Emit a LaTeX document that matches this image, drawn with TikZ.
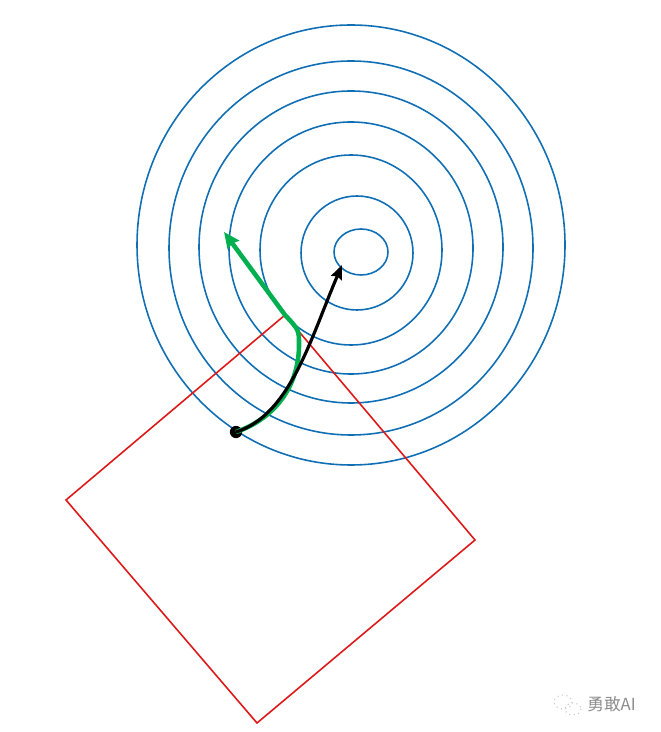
\documentclass[tikz,border=0pt]{standalone}
\usepackage{fontspec}
\newfontfamily\cjkfont{Noto Sans CJK SC}
\usetikzlibrary{arrows.meta}
\definecolor{contourblue}{RGB}{16,110,180}
\definecolor{boxred}{RGB}{222,24,24}
\definecolor{stepgreen}{RGB}{0,176,80}
\tikzset{
    contour line/.style = {draw=contourblue, line width=0.9pt},
    box edge/.style = {draw=boxred, line width=0.9pt},
}
\tikzset{
    gradient path/.style = {draw=stepgreen, line width=2.6pt, -{Stealth[length=9pt, width=8pt, inset=1pt]}},
    update path/.style = {draw=black, line width=1.8pt, -{Stealth[length=8pt, width=6.5pt, inset=1pt]}},
}

\begin{document}
\begin{tikzpicture}[x=0.02cm, y=-0.02cm]
        \useasboundingbox (0, 0) rectangle (660, 732);

        % level sets
        \foreach \cx/\cy/\rx/\ry in {361/252/27/23, 357/253/56/57, 351/250/91/95, 351/248/122/126,
                                     351/247/152/156, 351/248/182/187, 351/245/214/220}
            \draw[contour line] (\cx, \cy) ellipse [x radius=\rx, y radius=\ry];

        % trust region
        \draw[box edge] (285, 315) -- (475, 540) -- (257, 723) -- (66, 500) -- cycle;

        \coordinate (corner) at (285, 315);
        \coordinate (G) at (224, 232);
        \coordinate (min) at (342, 265);
        \node[circle, fill=black, inner sep=0pt, minimum size=7pt] (x0) at (236, 432) {};

        \draw[gradient path] (x0.center) .. controls (276, 418) and (299, 385) .. (299, 345)
            .. controls (299, 330) .. (corner) -- (G);
        \draw[update path] (x0.center) .. controls (290, 415) and (310, 340) .. (min);

        % watermark
        \draw[gray!45, line width=0.6pt, dotted] (563, 702) ellipse [x radius=9, y radius=7];
        \draw[gray!45, line width=0.6pt, dotted] (573, 709) ellipse [x radius=8, y radius=6];
        \node[text=gray!90, font=\cjkfont\fontsize{9.5}{11}\selectfont, anchor=west, inner sep=0pt] (wm) at (587, 704) {勇敢AI};
    \end{tikzpicture}
\end{document}
